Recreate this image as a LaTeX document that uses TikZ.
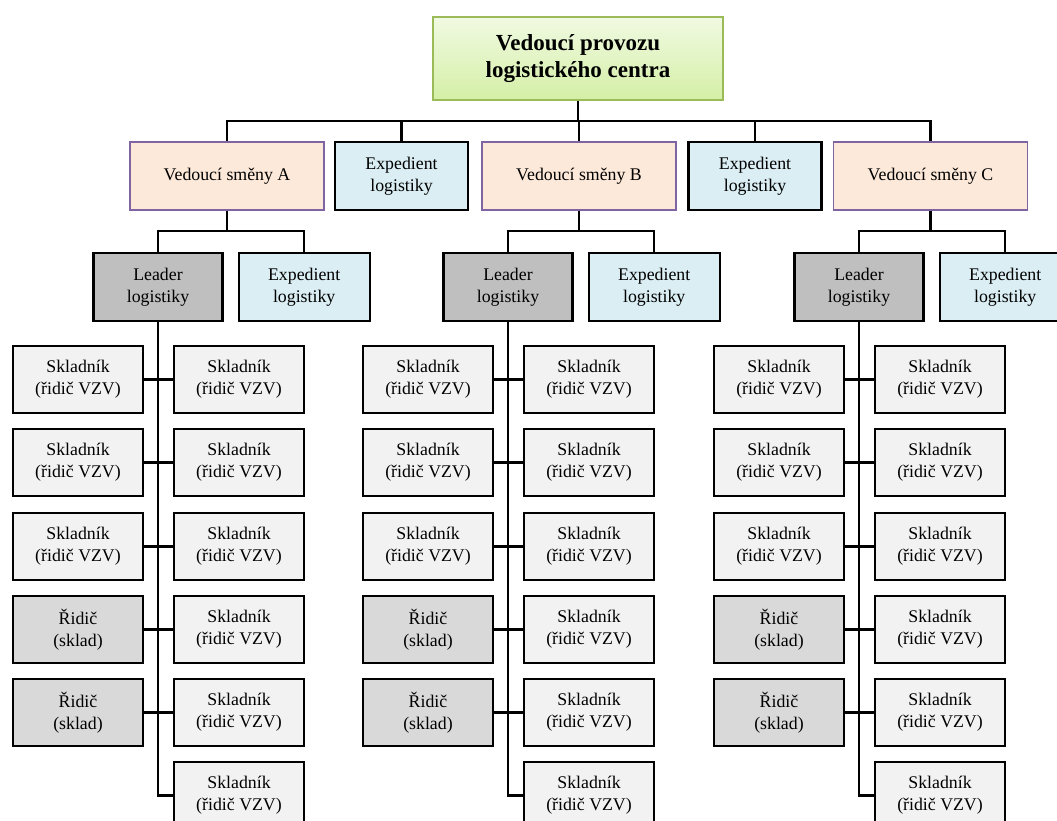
\documentclass[tikz,border=0pt]{standalone}
\usepackage{fontspec}
\setmainfont{Liberation Serif}
\usepackage{tikz}
\usetikzlibrary{positioning}

\definecolor{topfillA}{RGB}{241,250,226}
\definecolor{topfillB}{RGB}{212,239,166}
\definecolor{topline}{RGB}{155,187,89}
\definecolor{shiftfill}{RGB}{253,233,217}
\definecolor{shiftline}{RGB}{128,100,162}
\definecolor{expfill}{RGB}{218,238,243}
\definecolor{leadfill}{RGB}{191,191,191}
\definecolor{ridicfill}{RGB}{217,217,217}
\definecolor{skladfill}{RGB}{242,242,242}

\begin{document}
\begin{tikzpicture}[
    x=1pt, y=-1pt,
    box/.style={rectangle, draw, line width=2.2pt, align=center, inner sep=0pt, font=\fontsize{17.8}{22}\selectfont, minimum height=68pt},
    topbox/.style={box, draw=topline, top color=topfillA, bottom color=topfillB, minimum width=290pt, minimum height=83pt, font=\fontsize{23}{27}\selectfont\bfseries},
    shiftbox/.style={box, draw=shiftline, line width=1.8pt, fill=shiftfill, minimum width=194pt},
    expbox/.style={box, fill=expfill, minimum width=131pt},
    leadbox/.style={box, fill=leadfill, minimum width=129pt},
    skladbox/.style={box, fill=skladfill, minimum width=130pt, minimum height=67pt},
    ridicbox/.style={skladbox, fill=ridicfill},
    line/.style={line width=2.2pt}
]

% Page
\useasboundingbox (0,0) rectangle (1057,821);
\clip (0,0) rectangle (1057,821);

% Top management
\node[topbox] (top) at (578,58.5) {Vedoucí provozu\\logistického centra};

% Shift leaders and expedients
\node[shiftbox] (vedA) at (227,176) {Vedoucí směny A};
\node[expbox, minimum width=133pt] (exp1) at (401.5,176) {Expedient\\logistiky};
\node[shiftbox] (vedB) at (579,176) {Vedoucí směny B};
\node[expbox, minimum width=133pt] (exp2) at (755,176) {Expedient\\logistiky};
\node[shiftbox] (vedC) at (930.5,176) {Vedoucí směny C};

% Bus under top box
\coordinate (bus) at (578,121);
\draw[line] (top) -- (bus);
\draw[line] (vedA.north) |- (bus) -| (vedC.north);
\draw[line] (vedB.north) -- (vedB.north |- bus);
\draw[line] (exp1.north) -- (exp1.north |- bus);
\draw[line] (exp2.north) -- (exp2.north |- bus);

% Shifts
\foreach \c/\t in {A/158, B/508, C/859} {
    % Leader and expedient
    \node[leadbox] (lead\c) at (\t,287) {Leader\\logistiky};
    \node[expbox, right=14pt of lead\c] (expl\c) {Expedient\\logistiky};
    \draw[line] (ved\c.south) -- (ved\c.south |- 0,232);
    \draw[line] (lead\c.north) -- ++(0,-21) -| (expl\c.north);

    % Warehouse staff
    \foreach \r/\y in {1/379.5, 2/462.5, 3/546.5, 4/629.5, 5/712.5, 6/795.5}
        \node[skladbox] (r\c\r) at (\t+81,\y) {Skladník\\(řidič VZV)};
    \foreach \r/\y in {1/379.5, 2/462.5, 3/546.5}
        \node[skladbox] (l\c\r) at (\t-80,\y) {Skladník\\(řidič VZV)};
    \foreach \r/\y in {4/629.5, 5/712.5}
        \node[ridicbox] (l\c\r) at (\t-80,\y) {Řidič\\(sklad)};

    \draw[line] (lead\c.south) |- (r\c6.west);
    \foreach \r in {1,...,5}
        \draw[line] (l\c\r.east) -- (r\c\r.west);
}

\end{tikzpicture}
\end{document}
